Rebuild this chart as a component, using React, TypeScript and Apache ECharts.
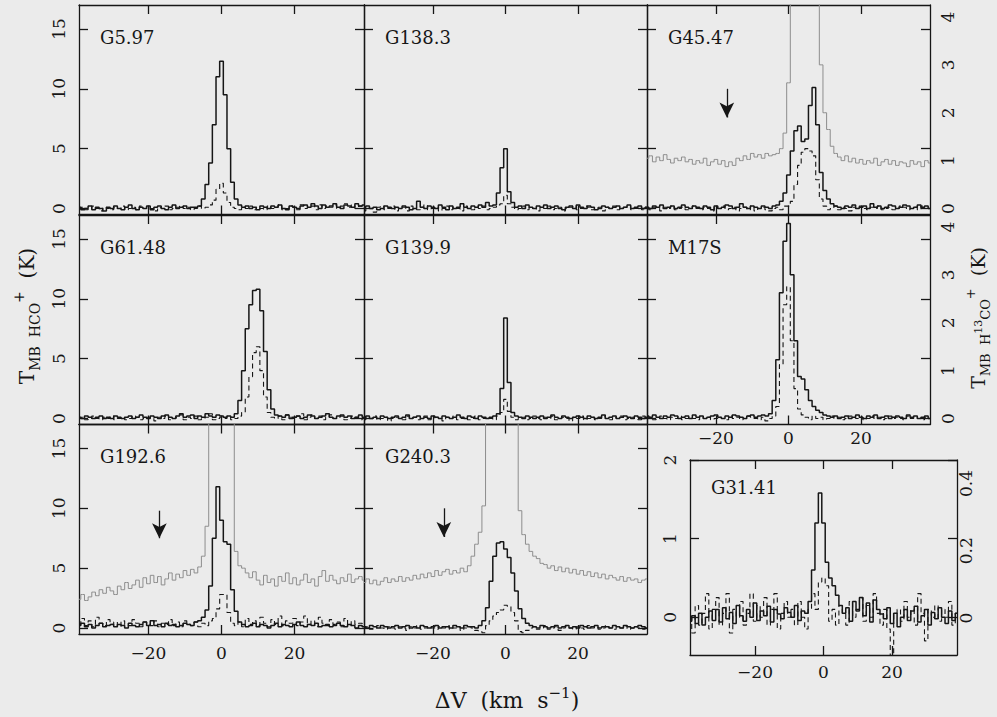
import { useEffect, useRef } from 'react';
import * as echarts from 'echarts';

// Channel grid shared by every spectrum (km/s)
const VELOCITY_START = -39;
const CHANNEL_WIDTH = 1;
const CHANNEL_COUNT = 79;
const VELOCITIES = Array.from({ length: CHANNEL_COUNT }, (_, i) => VELOCITY_START + i * CHANNEL_WIDTH);

const VELOCITY_TICKS = [-20, 0, 20];
const TEMP_TICKS = [0, 5, 10, 15];
const TEMP13_TICKS = [0, 1, 2, 3, 4];
const INSET_TEMP_TICKS = [0, 1, 2];
const INSET_TEMP13_TICKS = [0, 0.2, 0.4];

// G5.97
const G5_97_HCO = [
  0.1, -0.1, 0.0, 0.2, -0.1, 0.1, 0.0, -0.2, 0.1, 0.0,
  0.2, 0.0, -0.1, 0.1, 0.3, 0.0, -0.1, 0.1, 0.0, 0.2,
  -0.1, 0.1, 0.2, 0.0, -0.1, 0.1, 0.3, 0.0, 0.1, 0.2,
  0.0, 0.1, 0.1, 0.2, 0.8, 2.0, 3.8, 7.0, 11.0,
  12.3, 9.5, 5.0, 2.2, 0.8, 0.3, 0.1, 0.2, 0.0, 0.1,
  -0.1, 0.2, 0.1, 0.0, 0.2, 0.1, 0.3, 0.0, -0.1, 0.2,
  0.1, 0.0, 0.2, 0.3, 0.1, 0.4, 0.2, 0.0, 0.3, 0.1,
  0.2, 0.4, 0.1, 0.0, 0.3, 0.2, 0.1, 0.4, 0.2, 0.3,
];
const G5_97_H13CO = [
  0.0, 0.1, -0.1, 0.0, 0.2, 0.0, -0.2, 0.1, 0.0, -0.1,
  0.1, 0.0, 0.2, -0.1, 0.0, 0.1, -0.1, 0.2, 0.0, 0.1,
  0.0, -0.2, 0.1, 0.0, 0.2, -0.1, 0.0, 0.1, 0.2, 0.0,
  0.1, -0.1, 0.0, 0.2, 0.0, 0.1, 0.3, 0.7, 1.6,
  2.1, 1.3, 0.5, 0.1, 0.0, -0.1, 0.1, 0.0, 0.2, -0.1,
  0.1, 0.0, -0.1, 0.2, 0.0, 0.1, 0.3, -0.1, 0.0, 0.2,
  0.1, -0.1, 0.3, 0.0, 0.1, 0.2, -0.1, 0.3, 0.0, 0.2,
  0.1, 0.3, 0.0, 0.2, 0.4, 0.1, 0.3, 0.0, 0.2, 0.1,
];

// G138.3
const G138_3_HCO = [
  0.1, 0.2, 0.0, 0.1, -0.1, 0.0, 0.2, 0.1, 0.0, 0.1,
  0.0, 0.2, 0.1, -0.1, 0.0, 0.6, 0.1, 0.0, 0.2, 0.1,
  0.0, 0.3, 0.1, -0.1, 0.2, 0.0, 0.1, 0.4, 0.1, 0.0,
  0.2, 0.1, 0.3, 0.1, 0.5, 0.2, 0.3, 1.3, 3.4,
  5.0, 1.4, 0.5, 0.1, 0.2, 0.0, 0.3, 0.1, 0.0, 0.2,
  0.1, 0.3, 0.0, 0.1, 0.2, 0.0, -0.1, 0.1, 0.2, 0.0,
  0.3, 0.1, 0.0, 0.2, 0.1, -0.1, 0.0, 0.2, 0.1, 0.0,
  0.1, 0.2, 0.0, 0.1, 0.3, 0.0, 0.1, 0.2, 0.0, 0.1,
];
const G138_3_H13CO = [
  -0.2, 0.1, 0.0, -0.3, 0.1, 0.2, -0.1, 0.0, 0.2, -0.2,
  0.0, 0.1, -0.2, 0.2, 0.0, -0.1, 0.1, 0.3, -0.1, 0.0,
  0.1, -0.2, 0.0, 0.2, -0.1, 0.1, 0.0, -0.2, 0.2, 0.0,
  -0.1, 0.1, 0.0, 0.2, -0.1, 0.0, 0.1, 0.3, 0.4,
  1.1, 0.4, 0.1, -0.1, 0.0, 0.2, -0.1, 0.1, 0.0, -0.2,
  0.1, 0.0, 0.2, -0.1, 0.0, 0.1, -0.2, 0.0, 0.1, 0.2,
  -0.1, 0.0, 0.2, 0.1, -0.1, 0.0, 0.1, -0.2, 0.1, 0.0,
  0.2, -0.1, 0.0, 0.1, 0.2, -0.1, 0.0, 0.1, -0.1, 0.1,
];

// G45.47
const G45_47_HCO = [
  0.1, 0.0, 0.2, 0.1, 0.3, 0.0, 0.1, 0.2, 0.0, 0.1,
  0.3, 0.1, 0.0, 0.2, 0.1, 0.0, 0.2, 0.1, -0.1, 0.2,
  0.0, 0.1, 0.3, 0.2, 0.0, 0.1, 0.4, 0.1, 0.0, 0.2,
  0.1, 0.0, 0.2, 0.1, 0.0, 0.2, 0.3, 0.6, 1.3,
  2.8, 4.8, 6.5, 6.9, 5.6, 5.8, 8.6, 10.1, 7.0, 3.0,
  1.5, 0.8, 0.4, 0.2, 0.1, 0.0, 0.2, 0.1, 0.3, 0.0,
  0.1, 0.2, 0.0, 0.4, 0.1, 0.2, 0.0, 0.1, 0.3, 0.2,
  0.0, 0.1, 0.3, 0.2, 0.0, 0.1, 0.3, 0.1, 0.2, 0.0,
];
const G45_47_H13CO = [
  0.0, -0.1, 0.1, 0.0, -0.2, 0.1, 0.0, 0.2, -0.1, 0.0,
  0.1, -0.1, 0.0, 0.2, 0.0, -0.1, 0.1, 0.0, -0.2, 0.1,
  0.0, 0.2, -0.1, 0.0, 0.1, -0.2, 0.0, 0.1, -0.1, 0.2,
  -0.2, 0.0, 0.1, -0.1, -0.2, 0.0, 0.1, -0.1, 0.2,
  0.2, 0.6, 2.0, 3.6, 4.7, 5.0, 4.8, 4.4, 2.4, 0.8,
  0.2, -0.1, 0.0, 0.2, -0.1, 0.1, 0.0, -0.2, 0.1, 0.0,
  0.2, 0.0, -0.1, 0.1, 0.0, 0.2, -0.1, 0.0, 0.1, -0.1,
  0.0, 0.2, 0.1, -0.1, 0.0, 0.1, -0.1, 0.2, 0.0, 0.1,
];
// magnified HCO+ showing the line wings
const G45_47_WING = [
  4.2, 4.4, 3.9, 4.3, 4.0, 4.5, 4.1, 3.8, 4.2, 4.0,
  4.3, 3.9, 4.1, 3.7, 4.0, 3.8, 4.2, 3.6, 3.9, 4.1,
  3.7, 4.0, 3.5, 3.9, 3.6, 4.2, 4.0, 4.4, 4.1, 4.6,
  4.3, 4.5, 4.2, 4.6, 4.4, 4.5, 4.6, 5.0, 6.3,
  10.5, 25, 25, 25, 25, 25, 25, 25, 25, 12.0,
  8.0, 6.6, 5.2, 4.6, 4.3, 4.0, 4.4, 3.9, 4.2, 3.8,
  4.1, 3.7, 4.0, 3.8, 4.2, 3.6, 3.9, 4.1, 3.7, 4.0,
  3.6, 3.9, 3.8, 3.5, 4.0, 3.7, 3.9, 3.5, 4.0, 3.8,
];
const G45_47_ARROW = [-17, 10, 7.6];

// G61.48
const G61_48_HCO = [
  0.1, 0.0, 0.2, 0.1, 0.0, 0.1, 0.2, 0.0, 0.1, 0.0,
  0.2, 0.1, 0.0, 0.1, 0.2, 0.0, 0.1, 0.3, 0.1, 0.0,
  0.2, 0.1, 0.0, 0.2, 0.3, 0.1, 0.0, 0.2, 0.4, 0.1,
  0.2, 0.3, 0.0, 0.2, 0.1, 0.4, 0.2, 0.1, 0.3,
  0.2, 0.1, 0.2, 0.1, 0.4, 1.5, 4.0, 7.5, 9.5, 10.7,
  10.8, 9.0, 5.6, 2.4, 0.8, 0.3, 0.2, 0.1, 0.3, 0.0,
  0.1, 0.2, 0.0, 0.1, 0.3, 0.2, 0.0, 0.1, 0.2, 0.4,
  0.1, 0.0, 0.2, 0.3, 0.1, 0.2, 0.0, 0.1, 0.3, 0.1,
];
const G61_48_H13CO = [
  0.0, 0.1, -0.1, 0.0, 0.2, 0.0, -0.1, 0.1, 0.0, 0.2,
  -0.1, 0.0, 0.1, -0.1, 0.0, 0.2, 0.1, -0.1, 0.0, 0.1,
  0.0, -0.2, 0.1, 0.0, 0.2, -0.1, 0.0, 0.1, 0.3, -0.1,
  0.1, 0.0, 0.2, -0.1, 0.0, 0.1, 0.4, -0.1, 0.0,
  0.1, 0.0, 0.2, -0.1, 0.0, 0.2, 0.5, 1.8, 3.5, 5.5,
  6.0, 4.0, 1.8, 0.5, 0.1, 0.0, 0.2, -0.1, 0.3, 0.1,
  0.0, 0.2, 0.4, -0.1, 0.1, 0.3, 0.0, 0.2, -0.1, 0.1,
  0.3, 0.0, 0.1, 0.2, -0.1, 0.0, 0.2, 0.1, -0.1, 0.0,
];

// G139.9
const G139_9_HCO = [
  0.1, 0.2, 0.0, 0.1, 0.0, 0.2, 0.1, 0.0, 0.1, 0.2,
  0.0, 0.1, 0.3, 0.0, 0.1, 0.2, 0.0, 0.1, 0.0, 0.2,
  0.1, 0.0, 0.2, 0.1, 0.0, 0.1, 0.3, 0.1, 0.0, 0.2,
  0.1, 0.0, 0.2, 0.1, 0.0, 0.1, 0.2, 0.4, 2.5,
  8.4, 3.0, 0.5, 0.2, 0.1, 0.0, 0.2, 0.1, 0.0, 0.1,
  0.2, 0.0, 0.1, 0.3, 0.1, 0.0, 0.2, 0.1, 0.0, 0.1,
  0.2, 0.1, 0.0, 0.2, 0.1, 0.0, 0.1, 0.3, 0.0, 0.1,
  0.2, 0.0, 0.1, 0.2, 0.1, 0.0, 0.2, 0.1, 0.0, 0.1,
];
const G139_9_H13CO = [
  -0.1, 0.1, 0.0, 0.2, -0.1, 0.0, 0.1, -0.2, 0.0, 0.1,
  0.0, -0.1, 0.2, 0.0, 0.1, -0.1, 0.0, 0.2, -0.1, 0.0,
  0.1, 0.0, -0.2, 0.1, 0.0, 0.2, -0.1, 0.0, 0.1, -0.1,
  0.0, 0.2, -0.1, 0.0, 0.1, 0.0, -0.1, 0.2, 0.5,
  1.6, 0.6, 0.1, -0.1, 0.0, 0.1, -0.1, 0.0, 0.2, 0.0,
  -0.1, 0.1, 0.0, 0.2, -0.1, 0.0, 0.1, 0.0, -0.2, 0.1,
  0.0, 0.2, -0.1, 0.0, 0.1, -0.1, 0.0, 0.2, 0.0, -0.1,
  0.1, 0.0, 0.2, -0.1, 0.0, 0.1, 0.0, -0.1, 0.2, 0.0,
];

// M17S
const M17S_HCO = [
  0.2, 0.1, 0.3, 0.1, 0.0, 0.2, 0.1, 0.3, 0.2, 0.0,
  0.1, 0.2, 0.0, 0.3, 0.1, 0.2, 0.0, 0.1, 0.2, 0.3,
  0.1, 0.0, 0.2, 0.1, 0.3, 0.2, 0.1, 0.0, 0.2, 0.3,
  0.1, 0.2, 0.3, 0.2, 0.4, 1.5, 4.9, 10.5, 14.8,
  16.3, 12.0, 6.5, 3.5, 3.3, 2.4, 1.5, 1.0, 0.7, 0.5,
  0.3, 0.2, 0.1, 0.2, 0.0, 0.1, 0.2, 0.0, 0.1, 0.3,
  0.1, 0.0, 0.2, 0.1, 0.3, 0.0, 0.1, 0.2, 0.0, 0.1,
  0.2, 0.1, 0.0, 0.3, 0.1, 0.2, 0.0, 0.1, 0.2, 0.0,
];
const M17S_H13CO = [
  0.0, 0.1, -0.1, 0.0, 0.2, 0.0, -0.1, 0.1, 0.0, 0.2,
  -0.1, 0.0, 0.1, 0.0, -0.1, 0.2, 0.0, 0.1, -0.1, 0.0,
  0.1, 0.0, -0.1, 0.2, 0.0, 0.1, -0.1, 0.0, 0.2, 0.1,
  0.0, -0.1, 0.1, -0.2, 0.0, 0.2, 1.0, 4.5, 9.5,
  11.0, 6.5, 2.5, 0.8, 0.3, 0.1, -0.1, 0.2, 0.0, 0.1,
  -0.1, 0.0, 0.2, 0.0, 0.1, -0.1, 0.0, 0.2, 0.1, 0.0,
  0.1, -0.1, 0.0, 0.2, 0.0, 0.1, -0.1, 0.0, 0.2, 0.0,
  0.1, 0.0, -0.1, 0.2, 0.0, 0.1, 0.0, -0.1, 0.1, 0.0,
];

// G192.6
const G192_6_HCO = [
  0.2, 0.4, 0.1, 0.3, 0.0, 0.2, 0.4, 0.1, 0.2, 0.3,
  0.1, 0.3, 0.2, 0.0, 0.4, 0.2, 0.1, 0.3, 0.5, 0.2,
  0.6, 0.2, 0.3, 0.1, 0.4, 0.2, 0.3, 0.1, 0.2, 0.4,
  0.3, 0.2, 0.5, 0.6, 0.9, 1.5, 3.5, 7.5, 11.8,
  9.0, 7.2, 7.0, 3.2, 1.4, 0.5, 0.3, 0.1, 0.2, 0.4,
  0.1, 0.3, 0.2, 0.0, 0.2, 0.4, 0.1, 0.3, 0.2, 0.1,
  0.3, 0.5, 0.2, 0.1, 0.3, 0.2, 0.4, 0.1, 0.2, 0.3,
  0.1, 0.2, 0.4, 0.2, 0.1, 0.3, 0.2, 0.0, 0.2, 0.1,
];
const G192_6_H13CO = [
  0.3, 0.8, 0.2, 0.6, 0.1, 0.9, 0.4, 0.2, 0.7, 0.3,
  0.5, 0.1, 0.6, 0.3, 0.2, 0.7, 0.4, 0.1, 0.5, 0.3,
  0.2, 0.6, 0.1, 0.4, 0.3, 0.7, 0.2, 0.5, 0.1, 0.6,
  0.3, 0.2, 0.5, 0.1, 0.4, 0.2, 0.6, 0.8, 1.6,
  2.8, 2.8, 1.3, 0.4, 0.2, 0.5, 0.1, 0.8, 0.3, 0.6,
  0.2, 0.9, 0.4, 0.1, 0.7, 0.3, 1.0, 0.2, 0.6, 0.4,
  0.8, 0.2, 0.5, 1.0, 0.3, 0.6, 0.1, 0.9, 0.4, 0.2,
  0.7, 0.3, 0.5, 0.1, 0.8, 0.2, 0.6, 0.3, 0.4, 0.2,
];
const G192_6_WING = [
  2.4, 2.8, 2.3, 2.6, 3.0, 2.7, 3.2, 2.9, 3.4, 3.1,
  2.8, 3.5, 3.2, 3.8, 3.3, 3.6, 4.0, 3.4, 4.2, 3.7,
  4.4, 3.8, 4.3, 3.6, 4.1, 4.6, 4.0, 4.5, 4.2, 4.8,
  4.4, 4.9, 4.6, 5.1, 6.0, 8.5, 30, 30, 30,
  30, 30, 30, 30, 6.4, 5.2, 5.0, 4.6, 4.2, 4.7,
  4.0, 3.6, 4.4, 3.8, 4.1, 3.5, 4.3, 3.9, 4.6, 3.7,
  4.2, 3.6, 4.0, 4.5, 3.8, 4.1, 3.5, 4.3, 4.8, 3.9,
  4.4, 4.0, 3.7, 4.2, 3.9, 4.5, 3.8, 4.1, 4.3, 4.0,
];
const G192_6_ARROW = [-17, 9.8, 7.5];

// G240.3
const G240_3_HCO = [
  0.1, 0.0, 0.2, 0.1, 0.0, 0.2, 0.1, 0.0, 0.1, 0.2,
  0.0, 0.1, 0.2, 0.0, 0.1, 0.0, 0.2, 0.1, 0.0, 0.1,
  0.2, 0.0, 0.1, 0.1, 0.0, 0.2, 0.1, 0.0, 0.2, 0.1,
  0.1, 0.0, 0.2, 0.6, 1.7, 3.9, 6.0, 7.1, 7.2,
  6.6, 5.9, 4.6, 3.1, 1.6, 0.8, 0.4, 0.2, 0.1, 0.0,
  0.2, 0.1, 0.0, 0.1, 0.2, 0.0, 0.1, 0.2, 0.0, 0.1,
  0.0, 0.2, 0.1, 0.0, 0.1, 0.2, 0.0, 0.1, 0.1, 0.0,
  0.2, 0.1, 0.0, 0.2, 0.1, 0.0, 0.1, 0.2, 0.1, 0.0,
];
const G240_3_H13CO = [
  0.0, 0.1, -0.1, 0.0, 0.2, 0.0, -0.1, 0.1, 0.0, -0.1,
  0.1, 0.0, -0.2, 0.1, 0.0, 0.2, -0.1, 0.0, 0.1, 0.0,
  -0.1, 0.1, 0.0, 0.2, -0.1, 0.0, 0.1, -0.2, 0.0, 0.1,
  0.0, -0.2, -0.3, -0.4, 0.2, 0.6, 1.0, 1.3, 1.5,
  1.9, 1.8, 1.3, 0.6, -0.3, -0.4, -0.2, 0.0, 0.1, -0.1,
  0.0, 0.2, -0.1, 0.0, 0.1, -0.2, 0.0, 0.1, 0.0, -0.1,
  0.1, 0.0, -0.1, 0.2, 0.0, 0.1, -0.1, 0.0, 0.2, 0.0,
  -0.1, 0.1, 0.0, 0.2, -0.1, 0.0, 0.1, 0.0, -0.1, 0.1,
];
const G240_3_WING = [
  3.8, 4.1, 3.7, 4.0, 3.6, 3.9, 4.2, 3.8, 4.1, 3.9,
  4.3, 3.9, 4.2, 4.0, 4.4, 4.1, 4.5, 4.2, 4.6, 4.3,
  4.8, 4.4, 4.7, 4.9, 4.5, 4.8, 4.6, 5.0, 4.7, 5.2,
  6.0, 7.0, 8.0, 10.2, 30, 30, 30, 30, 30,
  30, 30, 30, 30, 9.8, 7.8, 7.0, 6.4, 6.0, 5.8,
  5.4, 5.3, 5.0, 5.2, 4.8, 5.1, 4.7, 5.0, 4.6, 4.9,
  4.5, 4.8, 4.4, 4.7, 4.3, 4.6, 4.2, 4.5, 4.1, 4.4,
  4.2, 4.0, 4.3, 3.9, 4.2, 4.0, 4.1, 3.8, 4.0, 4.1,
];
const G240_3_ARROW = [-17, 10, 7.6];

// G31.41 (inset)
const G31_41_HCO = [
  -0.05, 0.02, -0.08, 0.05, -0.1, 0.0, 0.08, -0.04, 0.1, -0.06,
  0.12, -0.02, 0.06, -0.08, 0.15, 0.02, -0.05, 0.1, 0.0, 0.18,
  -0.04, 0.08, 0.02, 0.14, -0.06, 0.1, 0.04, -0.02, 0.12, 0.06,
  0.0, 0.15, -0.04, 0.08, 0.05, 0.2, 0.6, 1.2, 1.58,
  1.2, 0.7, 0.5, 0.4, 0.28, 0.15, 0.05, 0.12, -0.05, 0.2,
  0.08, 0.25, 0.02, 0.18, -0.06, 0.22, 0.1, 0.04, -0.02, 0.12,
  -0.08, 0.05, -0.12, 0.0, 0.1, -0.04, 0.08, 0.14, -0.06, 0.02,
  0.1, -0.1, 0.06, -0.02, 0.12, 0.0, -0.08, 0.08, -0.04, 0.05,
];
const G31_41_H13CO = [
  0.0, -0.2, 0.15, -0.1, 0.05, 0.3, -0.15, 0.1, 0.25, -0.1,
  0.05, 0.3, -0.2, 0.1, 0.0, 0.2, -0.1, 0.05, 0.3, -0.05,
  0.15, 0.0, 0.25, -0.1, 0.1, 0.3, -0.15, 0.05, 0.2, 0.0,
  0.1, -0.1, 0.2, 0.0, -0.15, 0.1, 0.3, 0.1, 0.45,
  0.5, 0.4, -0.05, 0.1, -0.1, 0.15, 0.05, -0.1, 0.2, 0.0,
  0.1, 0.25, -0.05, 0.15, 0.0, 0.3, 0.05, -0.1, 0.1, -0.15,
  -0.6, 0.05, 0.1, -0.05, 0.2, 0.0, 0.1, -0.1, 0.3, 0.05,
  -0.3, 0.1, 0.0, 0.15, -0.05, 0.1, 0.0, 0.2, -0.1, 0.05,
];

type Panel = {
  name: string;
  row: number;
  col: number;
  inset?: boolean;
  hco: number[];
  h13co: number[];
  wing?: number[];
  arrow?: number[];
  showVelocity?: boolean;
  showTemp?: boolean;
  showTemp13?: boolean;
};

const PANELS: Panel[] = [
  { name: 'G5.97', row: 0, col: 0, hco: G5_97_HCO, h13co: G5_97_H13CO, showTemp: true },
  { name: 'G138.3', row: 0, col: 1, hco: G138_3_HCO, h13co: G138_3_H13CO },
  { name: 'G45.47', row: 0, col: 2, hco: G45_47_HCO, h13co: G45_47_H13CO, wing: G45_47_WING, arrow: G45_47_ARROW, showTemp13: true },
  { name: 'G61.48', row: 1, col: 0, hco: G61_48_HCO, h13co: G61_48_H13CO, showTemp: true },
  { name: 'G139.9', row: 1, col: 1, hco: G139_9_HCO, h13co: G139_9_H13CO },
  { name: 'M17S', row: 1, col: 2, hco: M17S_HCO, h13co: M17S_H13CO, showTemp13: true, showVelocity: true },
  { name: 'G192.6', row: 2, col: 0, hco: G192_6_HCO, h13co: G192_6_H13CO, wing: G192_6_WING, arrow: G192_6_ARROW, showTemp: true, showVelocity: true },
  { name: 'G240.3', row: 2, col: 1, hco: G240_3_HCO, h13co: G240_3_H13CO, wing: G240_3_WING, arrow: G240_3_ARROW, showVelocity: true },
  { name: 'G31.41', row: 2, col: 2, inset: true, hco: G31_41_HCO, h13co: G31_41_H13CO, showTemp: true, showTemp13: true, showVelocity: true },
];

// ---- layout & styling ----
const COL_LEFT = [79, 364, 647];
const COL_WIDTH = [285, 283, 283];
const ROW_TOP = [5, 215, 424.5];
const ROW_HEIGHT = 209.5;
const INSET_RECT = { left: 690, top: 460, width: 267, height: 195 };

const MAIN_RANGE = [-0.5, 17];
const MAIN_RANGE13 = [-0.125, 4.25];
const INSET_RANGE = [-0.48, 2.0];
const INSET_RANGE13 = [-0.11, 0.47];

const FONT = '"DejaVu Serif", "Liberation Serif", serif';
const INK = '#161616';
const WING_GREY = '#8d8d8d';
const BG = '#ebebeb';

const axisLineStyle = { color: INK, width: 1.3 };

const fmtVelocity = (v: number) => (v < 0 ? '\u2212' + Math.abs(v) : String(v));

function velocityAxis(gridIndex: number, position: 'top' | 'bottom', labelMargin: number | null) {
  return {
    type: 'value',
    gridIndex,
    position,
    min: VELOCITY_START,
    max: VELOCITY_START + (CHANNEL_COUNT - 1) * CHANNEL_WIDTH,
    axisLine: { show: true, onZero: false, lineStyle: axisLineStyle },
    axisTick: { show: true, inside: true, length: 9, customValues: VELOCITY_TICKS, lineStyle: axisLineStyle },
    axisLabel: {
      show: labelMargin !== null,
      customValues: VELOCITY_TICKS,
      formatter: fmtVelocity,
      margin: labelMargin ?? 8,
      fontFamily: FONT,
      fontSize: 17,
      color: INK,
    },
    splitLine: { show: false },
  };
}

function tempAxis(
  gridIndex: number,
  position: 'left' | 'right',
  range: number[],
  ticks: number[],
  labelMargin: number | null,
) {
  return {
    type: 'value',
    gridIndex,
    position,
    min: range[0],
    max: range[1],
    axisLine: { show: true, onZero: false, lineStyle: axisLineStyle },
    axisTick: { show: true, inside: true, length: 9, customValues: ticks, lineStyle: axisLineStyle },
    axisLabel: {
      show: labelMargin !== null,
      customValues: ticks,
      rotate: 90,
      margin: labelMargin ?? 8,
      fontFamily: FONT,
      fontSize: 17,
      color: INK,
    },
    splitLine: { show: false },
  };
}

function labelOnlyAxis(gridIndex: number, range: number[], ticks: number[], margin: number) {
  return {
    type: 'value',
    gridIndex,
    position: 'right',
    min: range[0],
    max: range[1],
    axisLine: { show: false, onZero: false },
    axisTick: { show: false },
    axisLabel: { show: true, customValues: ticks, rotate: 90, margin, fontFamily: FONT, fontSize: 17, color: INK },
    splitLine: { show: false },
  };
}

const toPoints = (values: number[]) => values.map((t, i) => [VELOCITIES[i], t]);

function buildOption() {
  const grid: any[] = [];
  const xAxis: any[] = [];
  const yAxis: any[] = [];
  const series: any[] = [];
  const graphic: any[] = [];

  PANELS.forEach((p) => {
    const rect = p.inset
      ? INSET_RECT
      : { left: COL_LEFT[p.col], top: ROW_TOP[p.row], width: COL_WIDTH[p.col], height: ROW_HEIGHT };
    const range = p.inset ? INSET_RANGE : MAIN_RANGE;
    const ticks = p.inset ? INSET_TEMP_TICKS : TEMP_TICKS;

    const g = grid.length;
    grid.push({ ...rect, containLabel: false, outerBoundsMode: 'none' });

    const xi = xAxis.length;
    let velocityMargin: number | null = null;
    if (p.showVelocity) velocityMargin = p.inset ? 8 : p.row === 1 ? 5 : 10;
    xAxis.push(velocityAxis(g, 'bottom', velocityMargin));
    xAxis.push(velocityAxis(g, 'top', null));

    const yi = yAxis.length;
    yAxis.push(tempAxis(g, 'left', range, ticks, p.showTemp ? 12 : null));
    yAxis.push(tempAxis(g, 'right', range, ticks, null));

    if (p.wing) {
      series.push({
        type: 'line',
        xAxisIndex: xi,
        yAxisIndex: yi,
        data: toPoints(p.wing),
        step: 'middle',
        symbol: 'none',
        silent: true,
        z: 2,
        lineStyle: { color: WING_GREY, width: 1 },
      });
    }

    const solid: any = {
      type: 'line',
      xAxisIndex: xi,
      yAxisIndex: yi,
      data: toPoints(p.hco),
      step: 'middle',
      symbol: 'none',
      silent: true,
      z: 4,
      lineStyle: { color: INK, width: 1.5 },
    };
    if (p.arrow) {
      solid.markLine = {
        silent: true,
        symbol: ['none', 'arrow'],
        symbolSize: [11, 15],
        label: { show: false },
        lineStyle: { color: INK, width: 1.3, type: 'solid' },
        data: [[{ coord: [p.arrow[0], p.arrow[1]] }, { coord: [p.arrow[0], p.arrow[2]] }]],
      };
    }
    series.push(solid);

    series.push({
      type: 'line',
      xAxisIndex: xi,
      yAxisIndex: yi,
      data: toPoints(p.h13co),
      step: 'middle',
      symbol: 'none',
      silent: true,
      z: 3,
      lineStyle: { color: INK, width: 1.1, type: [5, 3.5] },
    });

    if (p.showTemp13) {
      const og = grid.length;
      grid.push({ ...rect, containLabel: false, outerBoundsMode: 'none' });
      xAxis.push({ type: 'value', gridIndex: og, show: false, min: VELOCITY_START, max: -VELOCITY_START });
      yAxis.push(
        p.inset
          ? labelOnlyAxis(og, INSET_RANGE13, INSET_TEMP13_TICKS, 0)
          : labelOnlyAxis(og, MAIN_RANGE13, TEMP13_TICKS, 9),
      );
    }

    graphic.push({
      type: 'text',
      silent: true,
      x: rect.left + 21,
      y: rect.top + (p.inset ? 27 : 32),
      style: {
        text: p.name,
        font: `18px ${FONT}`,
        fill: INK,
        align: 'left',
        verticalAlign: 'middle',
        textAlign: 'left',
        textVerticalAlign: 'middle',
      },
    });
  });

  const richMain = { fontFamily: FONT, fontSize: 20, lineHeight: 30, color: INK };
  const richSub = { fontFamily: FONT, fontSize: 14, lineHeight: 16, verticalAlign: 'bottom', color: INK };
  const richSup = { fontFamily: FONT, fontSize: 14, lineHeight: 16, verticalAlign: 'top', color: INK };
  const richMid = { fontFamily: FONT, fontSize: 11, lineHeight: 14, verticalAlign: 'middle', color: INK };

  // left axis title
  graphic.push({
    type: 'text',
    silent: true,
    x: 27,
    y: 316,
    rotation: Math.PI / 2,
    style: {
      text: '{m|T}{s|MB  HCO}{p|+}{m|  (K)}',
      rich: { m: richMain, s: richSub, p: richSup },
      fill: INK,
      align: 'center',
      verticalAlign: 'middle',
      textAlign: 'center',
      textVerticalAlign: 'middle',
    },
  });
  // right axis title
  graphic.push({
    type: 'text',
    silent: true,
    x: 978,
    y: 318,
    rotation: Math.PI / 2,
    style: {
      text: '{m|T}{s|MB  H}{q|13}{s|CO}{p|+}{m|  (K)}',
      rich: {
        m: { ...richMain, fontSize: 19, lineHeight: 28 },
        s: { ...richSub, fontSize: 13, lineHeight: 15 },
        p: { ...richSup, fontSize: 13, lineHeight: 15 },
        q: richMid,
      },
      fill: INK,
      align: 'center',
      verticalAlign: 'middle',
      textAlign: 'center',
      textVerticalAlign: 'middle',
    },
  });
  // bottom axis title
  graphic.push({
    type: 'text',
    silent: true,
    x: 507,
    y: 700,
    style: {
      text: '{m|\u0394V  (km  s}{p|\u22121}{m|)}',
      rich: { m: { ...richMain, fontSize: 22 }, p: { ...richSup, fontSize: 15 } },
      fill: INK,
      align: 'center',
      verticalAlign: 'middle',
      textAlign: 'center',
      textVerticalAlign: 'middle',
    },
  });

  return { animation: false, backgroundColor: BG, grid, xAxis, yAxis, series, graphic };
}

export default function App() {
  const ref = useRef<HTMLDivElement>(null);
  useEffect(() => {
    if (!ref.current) return;
    const chart = echarts.init(ref.current, null, { renderer: 'svg' });
    chart.setOption(buildOption() as any);
    return () => chart.dispose();
  }, []);
  return (
    <div
      ref={ref}
      style={{ position: 'absolute', left: 0, top: 0, width: 997, height: 717, background: BG }}
    />
  );
}
